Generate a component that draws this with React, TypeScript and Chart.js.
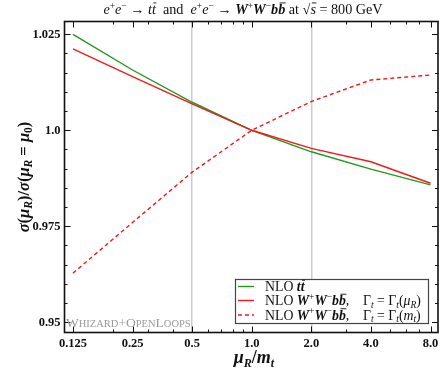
import React, { useEffect, useRef } from 'react';
import { Chart, registerables } from 'chart.js';
Chart.register(...registerables);

// ---- data ----
const muRatio = [0.125, 0.25, 0.5, 1.0, 2.0, 4.0, 8.0];
const nloTT = [1.025, 1.0157, 1.0073, 1.0, 0.9944, 0.9899, 0.9858];
const nloWWbbRun = [1.0212, 1.014, 1.0069, 1.0, 0.9953, 0.9918, 0.9862];
const nloWWbbFix = [0.9628, 0.976, 0.9891, 1.0, 1.0075, 1.0131, 1.0144];

const xTicks = [0.125, 0.25, 0.5, 1, 2, 4, 8];
const xTickLabels = ['0.125', '0.25', '0.5', '1.0', '2.0', '4.0', '8.0'];
const xMinorTicks = [0.2, 0.3, 0.4, 0.6, 0.7, 0.8, 0.9, 3, 5, 6, 7];
const yTicks = [0.95, 0.975, 1.0, 1.025];
const yTickLabels = ['0.95', '0.975', '1.0', '1.025'];
const yMinorTicks = [0.955, 0.96, 0.965, 0.97, 0.98, 0.985, 0.99, 0.995, 1.005, 1.01, 1.015, 1.02];
const gridMarks = [0.5, 2.0];

const GREEN = '#1f9a1f';
const RED = '#f21a1a';
const FAM = '"Liberation Serif", "DejaVu Serif", serif';
const fnt = (style: string, size: number) => `${style} ${size}px ${FAM}`;

type Seg = { t: string; f: string; dy?: number; bar?: boolean; c?: string };

function segWidth(ctx: CanvasRenderingContext2D, segs: Seg[]) {
  let w = 0;
  for (const s of segs) {
    ctx.font = s.f;
    w += ctx.measureText(s.t).width;
  }
  return w;
}

function drawRich(ctx: CanvasRenderingContext2D, segs: Seg[], x: number, y: number, align: 'left' | 'center' = 'left', color = '#111') {
  let cx = align === 'center' ? x - segWidth(ctx, segs) / 2 : x;
  ctx.textBaseline = 'alphabetic';
  ctx.textAlign = 'left';
  for (const s of segs) {
    ctx.font = s.f;
    ctx.fillStyle = s.c || color;
    const w = ctx.measureText(s.t).width;
    ctx.fillText(s.t, cx, y + (s.dy || 0));
    if (s.bar) {
      const m = /(\d+(\.\d+)?)px/.exec(s.f);
      const size = m ? parseFloat(m[1]) : 12;
      ctx.strokeStyle = s.c || color;
      ctx.lineWidth = 0.9;
      ctx.beginPath();
      ctx.moveTo(cx + 1.5, y + (s.dy || 0) - size * 0.78);
      ctx.lineTo(cx + w + 0.5, y + (s.dy || 0) - size * 0.78);
      ctx.stroke();
    }
    cx += w;
  }
  return cx;
}

const framePlugin = {
  id: 'frameTicks',
  afterDatasetsDraw(chart: any) {
    const { ctx, chartArea: a, scales } = chart;
    const x = scales.x, y = scales.y;
    ctx.save();
    ctx.strokeStyle = '#111';
    ctx.lineWidth = 1;
    const vt = (v: number, len: number) => {
      const px = Math.round(x.getPixelForValue(v)) + 0.5;
      ctx.beginPath();
      ctx.moveTo(px, a.bottom); ctx.lineTo(px, a.bottom - len);
      ctx.moveTo(px, a.top); ctx.lineTo(px, a.top + len);
      ctx.stroke();
    };
    const ht = (v: number, len: number) => {
      const py = Math.round(y.getPixelForValue(v)) + 0.5;
      ctx.beginPath();
      ctx.moveTo(a.left, py); ctx.lineTo(a.left + len, py);
      ctx.moveTo(a.right, py); ctx.lineTo(a.right - len, py);
      ctx.stroke();
    };
    xTicks.forEach(v => vt(v, 6));
    xMinorTicks.forEach(v => vt(v, 3));
    yTicks.forEach(v => ht(v, 6));
    yMinorTicks.forEach(v => ht(v, 3));
    ctx.lineWidth = 1.6;
    ctx.strokeRect(a.left, a.top, a.right - a.left, a.bottom - a.top);

    // watermark
    const big = fnt('normal', 13.5), small = fnt('normal', 10.5);
    drawRich(ctx, [
      { t: 'W', f: big }, { t: 'HIZARD', f: small }, { t: '+', f: big },
      { t: 'O', f: big }, { t: 'PEN', f: small }, { t: 'L', f: big }, { t: 'OOPS', f: small },
    ], a.left + 1.5, 326.5, 'left', '#9a9a9a');

    // legend
    const lx = 235.5, ly = 279.5, lw = 193, lh = 44;
    ctx.fillStyle = '#fff';
    ctx.fillRect(lx, ly, lw, lh);
    ctx.strokeStyle = '#444';
    ctx.lineWidth = 1.2;
    ctx.strokeRect(lx, ly, lw, lh);
    const rows = [286.5, 300.5, 315];
    const styles = [
      { c: GREEN, dash: [] as number[] },
      { c: RED, dash: [] as number[] },
      { c: RED, dash: [4, 3] },
    ];
    rows.forEach((ry, i) => {
      ctx.strokeStyle = styles[i].c;
      ctx.lineWidth = 1.4;
      ctx.setLineDash(styles[i].dash);
      ctx.beginPath();
      ctx.moveTo(238, ry); ctx.lineTo(254, ry);
      ctx.stroke();
      ctx.setLineDash([]);
    });
    const LS = 13.8;
    const rm = fnt('normal', LS), bi = fnt('italic bold', LS), it = fnt('italic', LS);
    const sup = fnt('normal', 9.5), sub = fnt('italic', 9.5);
    drawRich(ctx, [{ t: 'NLO ', f: rm }, { t: 't', f: bi }, { t: 't', f: bi, bar: true }], 265, rows[0] + 4.5);
    const wwbb: Seg[] = [
      { t: 'NLO ', f: rm }, { t: 'W', f: bi }, { t: '+', f: sup, dy: -5.5 }, { t: 'W', f: bi },
      { t: '−', f: sup, dy: -5.5 }, { t: 'b', f: bi }, { t: 'b', f: bi, bar: true }, { t: ',', f: rm },
    ];
    drawRich(ctx, wwbb, 265, rows[1] + 4.5);
    drawRich(ctx, wwbb, 265, rows[2] + 4.5);
    drawRich(ctx, [
      { t: 'Γ', f: rm }, { t: 't', f: sub, dy: 2.5 }, { t: ' = Γ', f: rm }, { t: 't', f: sub, dy: 2.5 },
      { t: '(', f: rm }, { t: 'μ', f: it }, { t: 'R', f: sub, dy: 2.5 }, { t: ')', f: rm },
    ], 363, rows[1] + 4.5);
    drawRich(ctx, [
      { t: 'Γ', f: rm }, { t: 't', f: sub, dy: 2.5 }, { t: ' = Γ', f: rm }, { t: 't', f: sub, dy: 2.5 },
      { t: '(', f: rm }, { t: 'm', f: it }, { t: 't', f: sub, dy: 2.5 }, { t: ')', f: rm },
    ], 363, rows[2] + 4.5);
    ctx.restore();
  },
  afterDraw(chart: any) {
    const { ctx, chartArea: a } = chart;
    ctx.save();
    const cx = (a.left + a.right) / 2;
    // title
    const TS = 14.2;
    const it = fnt('italic', TS), rm = fnt('normal', TS), bi = fnt('italic bold', TS), sp = fnt('normal', 9.5);
    drawRich(ctx, [
      { t: 'e', f: it }, { t: '+', f: sp, dy: -5.5 }, { t: 'e', f: it }, { t: '−', f: sp, dy: -5.5 },
      { t: ' → ', f: rm }, { t: 't', f: it }, { t: 't', f: it, bar: true },
      { t: '  and  ', f: rm },
      { t: 'e', f: it }, { t: '+', f: sp, dy: -5.5 }, { t: 'e', f: it }, { t: '−', f: sp, dy: -5.5 },
      { t: ' → ', f: rm }, { t: 'W', f: bi }, { t: '+', f: sp, dy: -5.5 }, { t: 'W', f: bi }, { t: '−', f: sp, dy: -5.5 },
      { t: 'b', f: bi }, { t: 'b', f: bi, bar: true },
      { t: ' at ', f: rm }, { t: '√', f: rm }, { t: 's', f: it, bar: true }, { t: ' = 800 GeV', f: rm },
    ], 243, 14, 'center');

    // x label
    const xl = fnt('italic bold', 18), xs = fnt('italic bold', 12);
    drawRich(ctx, [
      { t: 'μ', f: xl }, { t: 'R', f: xs, dy: 3.5 }, { t: '/', f: fnt('bold', 18) }, { t: 'm', f: xl }, { t: 't', f: xs, dy: 3.5 },
    ], 254, 363, 'center');

    // y label
    ctx.translate(23, (a.top + a.bottom) / 2);
    ctx.rotate(-Math.PI / 2);
    const yl = fnt('italic bold', 16.5), yr = fnt('bold', 16.5), ys = fnt('italic bold', 11.5);
    drawRich(ctx, [
      { t: 'σ', f: yl }, { t: '(', f: yr }, { t: 'μ', f: yl }, { t: 'R', f: ys, dy: 3.5 }, { t: ')/', f: yr },
      { t: 'σ', f: yl }, { t: '(', f: yr }, { t: 'μ', f: yl }, { t: 'R', f: ys, dy: 3.5 }, { t: ' = ', f: yr },
      { t: 'μ', f: yl }, { t: '0', f: fnt('bold', 11.5), dy: 3.5 }, { t: ')', f: yr },
    ], 0, 5.5, 'center');
    ctx.restore();
  },
};

export default function App() {
  const ref = useRef<HTMLCanvasElement>(null);
  useEffect(() => {
    if (!ref.current) return;
    const pts = (ys: number[]) => muRatio.map((x, i) => ({ x, y: ys[i] }));
    const tickFont = { family: FAM, size: 12.5, weight: 'bold' as const };
    const chart = new Chart(ref.current, {
      type: 'line',
      data: {
        datasets: [
          { label: 'NLO tt', data: pts(nloTT), borderColor: GREEN, borderWidth: 1.4, pointRadius: 0, order: 3 },
          { label: 'NLO WWbb run', data: pts(nloWWbbRun), borderColor: RED, borderWidth: 1.4, pointRadius: 0, order: 2 },
          { label: 'NLO WWbb fix', data: pts(nloWWbbFix), borderColor: RED, borderWidth: 1.4, pointRadius: 0, borderDash: [4, 3], order: 1 },
        ],
      },
      options: {
        animation: false,
        responsive: false,
        events: [],
        layout: { padding: { top: 21.5, right: 7, left: 0, bottom: 0 } },
        plugins: { legend: { display: false }, title: { display: false }, tooltip: { enabled: false } },
        scales: {
          x: {
            type: 'logarithmic',
            min: 0.11324,
            max: 8.729,
            afterBuildTicks: (s: any) => { s.ticks = xTicks.map(v => ({ value: v })); },
            afterFit: (s: any) => { s.height = 38.5; },
            ticks: {
              autoSkip: false, maxRotation: 0, padding: 4, color: '#111', font: tickFont,
              callback: (v: any) => xTickLabels[xTicks.indexOf(Number(v))] ?? '',
            },
            grid: {
              drawTicks: false,
              lineWidth: 1.5,
              color: (c: any) => (c.tick && gridMarks.includes(c.tick.value) ? '#cccccc' : 'rgba(0,0,0,0)'),
            },
            border: { display: false },
          },
          y: {
            type: 'linear',
            min: 0.94734,
            max: 1.02833,
            afterBuildTicks: (s: any) => { s.ticks = yTicks.map(v => ({ value: v })); },
            afterFit: (s: any) => { s.width = 64.5; },
            ticks: {
              padding: 4, color: '#111', font: tickFont,
              callback: (v: any) => yTickLabels[yTicks.findIndex(t => Math.abs(t - Number(v)) < 1e-9)] ?? '',
            },
            grid: { display: false, drawTicks: false },
            border: { display: false },
          },
        },
      },
      plugins: [framePlugin],
    } as any);
    return () => chart.destroy();
  }, []);
  return (
    <div style={{ position: 'absolute', left: 0, top: 0, width: 445, height: 371, background: '#fff' }}>
      <canvas ref={ref} width={445} height={371} style={{ display: 'block', width: 445, height: 371 }} />
    </div>
  );
}
